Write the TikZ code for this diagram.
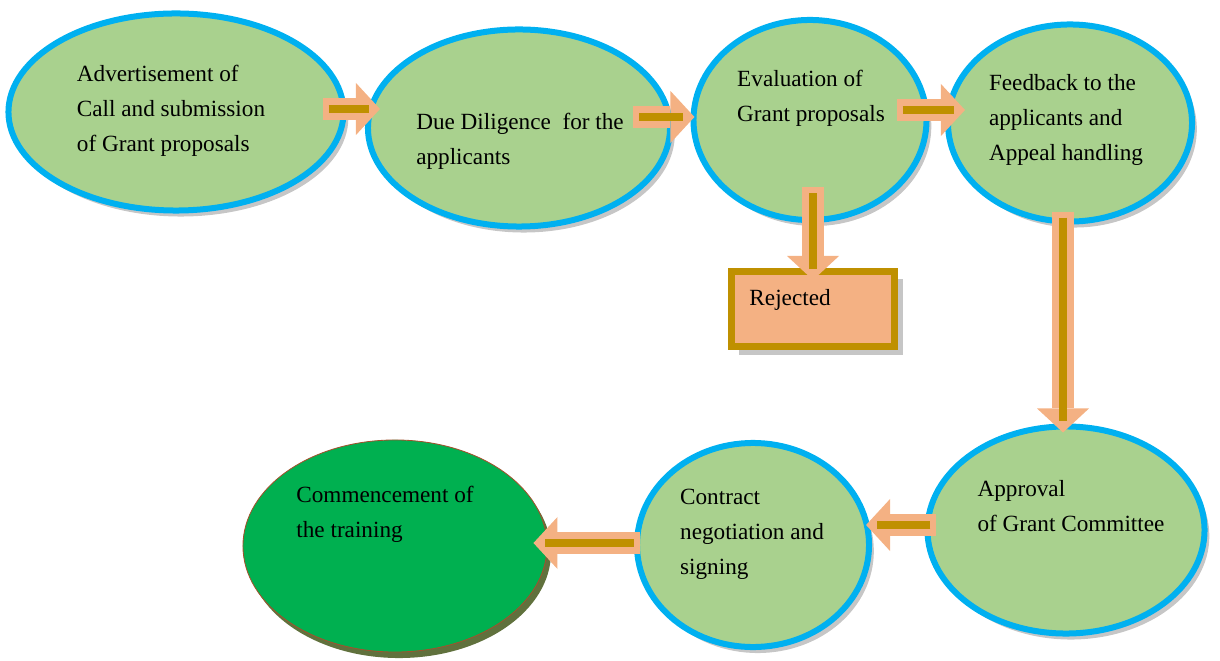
\documentclass[tikz,border=0pt]{standalone}
\usepackage{fontspec}
\setmainfont{Liberation Serif}
\usetikzlibrary{arrows.meta,shapes.geometric,shadows}
\definecolor{leaf}{HTML}{A9D18E}
\definecolor{rim}{HTML}{00B0F0}
\definecolor{peach}{HTML}{F4B183}
\definecolor{ochre}{HTML}{BF9000}
\definecolor{grass}{HTML}{00B050}
\definecolor{bark}{HTML}{A0522D}
\definecolor{moss}{HTML}{4F6228}

\begin{document}
\begin{tikzpicture}[x=0.025cm, y=-0.025cm,
      stage/.style={ellipse, draw=rim, line width=0.15cm, fill=leaf, inner sep=0pt,
        drop shadow={shadow xshift=0.12cm, shadow yshift=-0.15cm, fill=black!50, opacity=.45}},
      txt/.style={align=left, inner sep=0pt, font=\fontsize{16.5}{24.9}\selectfont},
      rejbox/.style={draw=ochre, line width=0.175cm, fill=peach, align=left,
        text width=3.175cm, inner xsep=0.45cm, text height=0.4cm, text depth=0.55cm,
        minimum width=4.075cm, minimum height=1.875cm, font=\fontsize{16.5}{24.9}\selectfont,
        drop shadow={shadow xshift=0.2cm, shadow yshift=-0.2cm, fill=black!50, opacity=.45}},
      flow/.style={draw=peach, line width=0.55cm,
        -{Triangle[length=0.6cm, width=1.3cm, line width=0pt]},
        postaction={draw=ochre, line width=0.2cm, -, shorten <=0.15cm, shorten >=0.28cm}}]
    \useasboundingbox (0,0) rectangle (1220,661);
    % top row
    \node[stage, minimum width=8.375cm, minimum height=4.925cm] (adv) at (176,112) {};
    \node[stage, minimum width=7.55cm, minimum height=4.925cm] (dd) at (519,128) {};
    \node[stage, minimum width=5.825cm, minimum height=5cm] (eval) at (810,120) {};
    \node[stage, minimum width=6.1cm, minimum height=4.925cm] (fb) at (1070,123) {};
    \node[rejbox] (rej) at (813,309) {Rejected};
    % bottom row
    \node[stage, minimum width=6.925cm, minimum height=5.175cm] (appr) at (1066,530) {};
    \node[stage, minimum width=5.8cm, minimum height=5.1cm] (contr) at (753,545) {};
    \node[ellipse, draw=bark, line width=0.6pt, fill=grass, inner sep=0pt,
      minimum width=7.6cm, minimum height=5.3cm,
      drop shadow={shadow xshift=0.1cm, shadow yshift=-0.15cm, fill=moss, opacity=.9}] (comm) at (395,546) {};
    % texts
    \node[txt] (advT) at ([shift={(-5,-1)}]adv.center) {Advertisement of\\Call and submission\\of Grant proposals};
    \node[txt] (ddT) at ([shift={(1,13)}]dd.center) {Due Diligence\ \ for the\\applicants};
    \node[txt] (evalT) at ([shift={(1,-22)}]eval.center) {Evaluation of\\Grant proposals};
    \node[txt] (fbT) at ([shift={(-4,-3)}]fb.center) {Feedback to the\\applicants and\\Appeal handling};
    \node[txt] (apprT) at ([shift={(5,-24)}]appr.center) {Approval\\of Grant Committee};
    \node[txt] (contrT) at ([shift={(-1,-11)}]contr.center) {Contract\\negotiation and\\signing};
    \node[txt] (commT) at ([shift={(-10,-32)}]comm.center) {Commencement of\\the training};
    % arrows
    \draw[flow] ([shift={(-24,-3)}]adv.east) -- ([shift={(15,-19)}]dd.west);
    \draw[flow] ([shift={(-40,-11)}]dd.east) -- ([shift={(4,-3)}]eval.west);
    \draw[flow] ([shift={(-33,-10)}]eval.east) -- ([shift={(20,-13)}]fb.west);
    \draw[flow] ([shift={(3,-36)}]eval.south) -- ([shift={(0,12)}]rej.north);
    \draw[flow] ([shift={(-7,-13)}]fb.south) -- ([shift={(-3,9)}]appr.north);
    \draw[flow] ([shift={(12,-5)}]appr.west) -- ([shift={(-6,-20)}]contr.east);
    \draw[flow] ([shift={(6,-2)}]contr.west) -- ([shift={(-14,-3)}]comm.east);
  \end{tikzpicture}
\end{document}
